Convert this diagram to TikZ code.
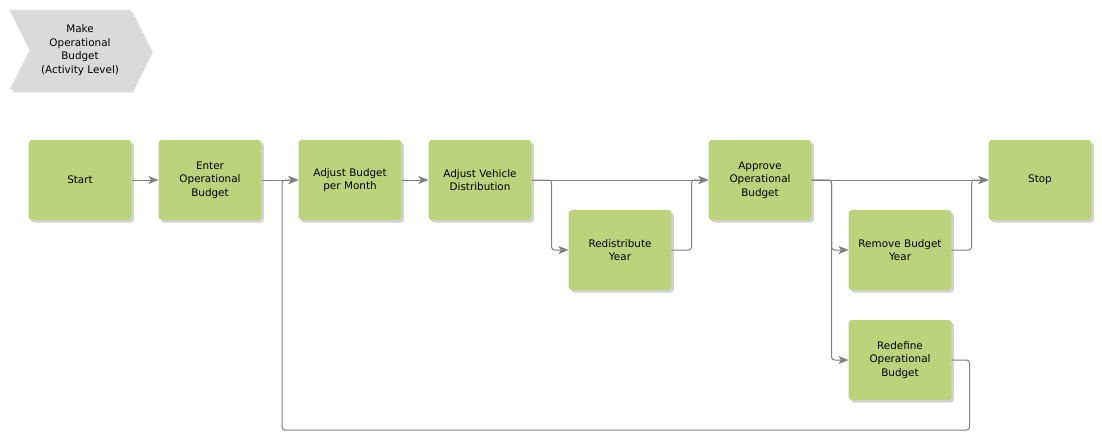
\documentclass[tikz,border=0pt]{standalone}
\usepackage{fontspec}
\setmainfont{DejaVu Sans}
\usepackage{xcolor}
\definecolor{taskgreen}{RGB}{188,211,124}
\definecolor{headgray}{RGB}{218,218,218}
\definecolor{linkgray}{RGB}{128,128,128}
\usepackage{tikz}
\usetikzlibrary{arrows.meta,shapes.symbols,shadows,positioning}

\begin{document}
\begin{tikzpicture}[
  x=1pt, y=-1pt,
  font=\fontsize{10.4}{13.5}\selectfont,
  task/.style={
    rectangle, rounded corners=3pt,
    minimum width=100pt, minimum height=80pt,
    text width=96pt, align=center,
    fill=taskgreen, draw=none,
    drop shadow={shadow xshift=2.5pt, shadow yshift=-2.5pt, fill=black!22, opacity=0.8}
  },
  header/.style={
    signal, signal to=east, signal from=west,
    signal pointer angle=127,
    minimum width=140pt, minimum height=80pt,
    text width=94pt, align=center,
    fill=headgray, draw=none,
    drop shadow={shadow xshift=2.5pt, shadow yshift=-2.5pt, fill=black!18, opacity=0.8}
  },
  link/.style={-{Stealth[length=10pt, width=8pt, inset=2.5pt]}, line width=1pt, color=linkgray, rounded corners=3pt}
]
\useasboundingbox (0,0) rectangle (1102,441);

\node[header] (head) at (80,50) {Make\\Operational\\Budget\\(Activity Level)};

\node[task] (start) at (80,180) {Start};
\node[task] (enter) at (210,180) {Enter\\Operational\\Budget};
\node[task] (adjbudget) at (350,180) {Adjust Budget\\per Month};
\node[task] (adjvehicle) at (480,180) {Adjust Vehicle\\Distribution};
\node[task] (redist) at (620,250) {Redistribute\\Year};
\node[task] (approve) at (760,180) {Approve\\Operational\\Budget};
\node[task] (remove) at (900,250) {Remove Budget\\Year};
\node[task] (redefine) at (900,360) {Redefine\\Operational\\Budget};
\node[task] (stop) at (1040,180) {Stop};

\coordinate (loopback) at (282,430);

\draw[link] (start.east) -- (enter.west);
\draw[link] (enter.east) -- (adjbudget.west);
\draw[link] (adjbudget.east) -- (adjvehicle.west);
\draw[link] (adjvehicle.east) -- (approve.west);
\draw[link] (adjvehicle.east) -- ++(20,0) |- (redist.west);
\draw[link] (redist.east) -- ++(20,0) |- (approve.west);
\draw[link] (approve.east) -- (stop.west);
\draw[link] (approve.east) -- ++(20,0) |- (remove.west);
\draw[link] (approve.east) -- ++(20,0) |- (redefine.west);
\draw[link] (remove.east) -- ++(20,0) |- (stop.west);
\draw[link] (redefine.east) -- ++(18,0) |- (loopback) |- (adjbudget.west);
\end{tikzpicture}
\end{document}
